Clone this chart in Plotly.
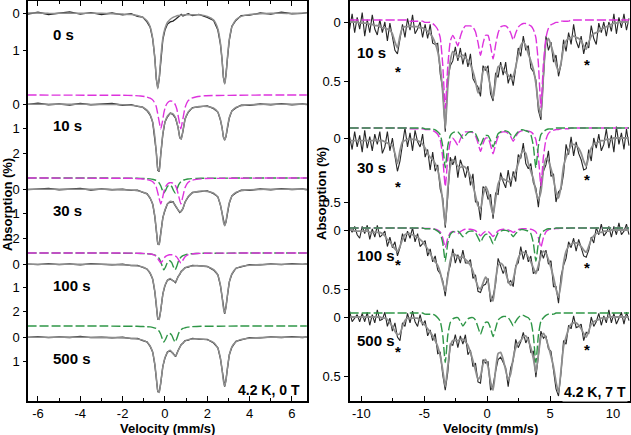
import plotly.graph_objects as go

FONT = "Liberation Sans, Arial, sans-serif"
DATA_C = "#262626"
FIT_C = "#8e8e8e"
MAG_C = "#dd33dd"
GRN_C = "#2f9647"

# ================= LEFT PANEL (4.2 K, 0 T) =================
L_SPECTRA = ["0 s", "10 s", "30 s", "100 s", "500 s"]

L_VEL = [-6.5, -6.0, -5.5, -5.0, -4.5, -4.0, -3.5, -3.0, -2.5, -2.0,
         -1.6, -1.3, -1.05, -0.85, -0.7, -0.58, -0.48, -0.41, -0.34,
         -0.27, -0.2, -0.1, 0.0, 0.12, 0.25, 0.38, 0.5, 0.62, 0.7,
         0.77, 0.85, 0.95, 1.1, 1.3, 1.6, 2.0, 2.3, 2.5, 2.62,
         2.7, 2.76, 2.82, 2.88, 2.95, 3.04, 3.16, 3.35, 3.6, 4.0,
         4.5, 5.0, 5.5, 6.0, 6.5, 6.7]

# absorption (%) of the fits
L_FIT_0S = [0.0, 0.0, 0.01, 0.01, 0.01, 0.01, 0.01, 0.01, 0.02, 0.03,
            0.04, 0.07, 0.12, 0.21, 0.37, 0.68, 1.23, 1.75, 2.05,
            1.75, 1.23, 0.68, 0.42, 0.25, 0.17, 0.12, 0.09, 0.07, 0.065,
            0.06, 0.055, 0.05, 0.05, 0.05, 0.05, 0.09, 0.19, 0.43, 0.81,
            1.29, 1.71, 1.92, 1.71, 1.21, 0.71, 0.38, 0.18, 0.09, 0.04,
            0.02, 0.01, 0.01, 0.01, 0.0, 0.0]
L_FIT_10S = [0.01, 0.01, 0.01, 0.01, 0.01, 0.01, 0.02, 0.02, 0.02, 0.03,
             0.05, 0.08, 0.14, 0.25, 0.43, 0.76, 1.32, 1.97, 2.66,
             2.73, 2.09, 1.21, 0.75, 0.49, 0.39, 0.40, 0.56, 0.97, 1.36,
             1.44, 1.09, 0.63, 0.32, 0.17, 0.10, 0.10, 0.17, 0.34, 0.63,
             0.99, 1.32, 1.48, 1.32, 0.94, 0.55, 0.30, 0.14, 0.07, 0.03,
             0.02, 0.01, 0.01, 0.01, 0.01, 0.01]
L_FIT_30S = [0.01, 0.01, 0.01, 0.01, 0.01, 0.01, 0.01, 0.01, 0.02, 0.03,
             0.04, 0.07, 0.12, 0.21, 0.36, 0.63, 1.1, 1.65, 2.2,
             2.27, 1.85, 1.2, 0.85, 0.62, 0.5, 0.55, 0.68, 0.85, 0.93,
             0.92, 0.78, 0.55, 0.3, 0.16, 0.09, 0.1, 0.17, 0.34, 0.64,
             1.0, 1.34, 1.5, 1.34, 0.95, 0.56, 0.3, 0.14, 0.07, 0.03,
             0.02, 0.01, 0.01, 0.01, 0.01, 0.01]
L_FIT_100S = [0.01, 0.01, 0.01, 0.01, 0.01, 0.01, 0.01, 0.01, 0.02, 0.03,
              0.05, 0.08, 0.13, 0.23, 0.38, 0.66, 1.15, 1.7, 2.3,
              2.36, 1.95, 1.3, 0.9, 0.7, 0.62, 0.72, 0.76, 0.55, 0.42,
              0.33, 0.24, 0.17, 0.11, 0.08, 0.07, 0.12, 0.24, 0.48, 0.9,
              1.41, 1.87, 2.09, 1.87, 1.33, 0.78, 0.42, 0.2, 0.1, 0.05,
              0.02, 0.01, 0.01, 0.01, 0.01, 0.01]
L_FIT_500S = [0.01, 0.01, 0.01, 0.01, 0.01, 0.01, 0.01, 0.01, 0.02, 0.03,
              0.05, 0.08, 0.13, 0.22, 0.37, 0.64, 1.12, 1.66, 2.25,
              2.31, 1.9, 1.25, 0.85, 0.64, 0.55, 0.7, 0.79, 0.58, 0.43,
              0.33, 0.24, 0.17, 0.11, 0.08, 0.07, 0.12, 0.23, 0.47, 0.88,
              1.38, 1.83, 2.04, 1.83, 1.3, 0.76, 0.41, 0.2, 0.1, 0.05,
              0.02, 0.01, 0.01, 0.01, 0.01, 0.01]

# absorption (%) of the measured spectra
L_DATA_0S = [0.03, -0.02, 0.04, 0.0, -0.03, 0.03, -0.01, 0.04, 0.0, 0.05,
             0.02, 0.09, 0.11, 0.24, 0.38, 0.7, 1.2, 1.78, 2.02,
             1.78, 1.26, 0.72, 0.46, 0.3, 0.24, 0.22, 0.17, 0.1, 0.08,
             0.04, 0.08, 0.05, 0.02, 0.07, 0.04, 0.12, 0.2, 0.46, 0.84,
             1.27, 1.74, 1.9, 1.68, 1.24, 0.73, 0.36, 0.2, 0.07, 0.06,
             0.0, 0.03, -0.02, 0.02, 0.01, -0.01]
L_DATA_10S = [0.02, -0.03, 0.03, 0.0, 0.04, -0.02, 0.03, 0.0, -0.02, 0.05,
              0.03, 0.1, 0.13, 0.27, 0.45, 0.74, 1.35, 1.95, 2.7,
              2.75, 2.06, 1.24, 0.73, 0.52, 0.37, 0.43, 0.58, 0.95, 1.38,
              1.42, 1.12, 0.6, 0.34, 0.15, 0.12, 0.08, 0.19, 0.33, 0.66,
              0.97, 1.35, 1.46, 1.34, 0.92, 0.57, 0.28, 0.16, 0.05, 0.05,
              0.0, 0.03, -0.01, 0.03, 0.0, 0.02]
L_DATA_30S = [0.03, 0.0, -0.02, 0.03, 0.01, -0.02, 0.04, 0.0, 0.03, 0.01,
              0.06, 0.05, 0.14, 0.19, 0.38, 0.61, 1.13, 1.62, 2.24,
              2.25, 1.88, 1.17, 0.88, 0.6, 0.53, 0.52, 0.7, 0.83, 0.96,
              0.9, 0.8, 0.53, 0.32, 0.14, 0.11, 0.08, 0.19, 0.32, 0.66,
              0.98, 1.36, 1.48, 1.36, 0.93, 0.58, 0.28, 0.16, 0.05, 0.05,
              0.0, 0.03, -0.01, 0.02, 0.0, 0.03]
L_DATA_100S = [0.0, 0.03, -0.01, 0.03, 0.0, 0.04, -0.01, 0.02, 0.04, 0.01,
               0.07, 0.06, 0.15, 0.21, 0.4, 0.64, 1.18, 1.67, 2.34,
               2.33, 1.98, 1.27, 0.93, 0.68, 0.65, 0.7, 0.79, 0.53, 0.44,
               0.31, 0.26, 0.15, 0.13, 0.06, 0.09, 0.1, 0.26, 0.46, 0.92,
               1.38, 1.9, 2.12, 1.84, 1.35, 0.76, 0.44, 0.18, 0.12, 0.03,
               0.04, 0.0, 0.03, -0.01, 0.02, 0.0]
L_DATA_500S = [0.02, -0.01, 0.03, 0.0, 0.02, -0.02, 0.03, 0.01, 0.04, 0.01,
               0.07, 0.06, 0.15, 0.2, 0.39, 0.62, 1.15, 1.63, 2.28,
               2.28, 1.93, 1.22, 0.88, 0.62, 0.58, 0.68, 0.82, 0.56, 0.45,
               0.31, 0.26, 0.15, 0.13, 0.06, 0.09, 0.1, 0.25, 0.45, 0.9,
               1.35, 1.86, 2.07, 1.8, 1.33, 0.74, 0.43, 0.18, 0.12, 0.03,
               0.04, 0.0, 0.02, -0.01, 0.02, 0.0]

# doublet components (absorption %, at full weight)
L_COMP_VEL = [-6.5, -3.0, -2.0, -1.5, -1.15, -0.9, -0.7, -0.55, -0.42, -0.3,
              -0.2, -0.12, -0.05, 0.03, 0.12, 0.22, 0.32, 0.4, 0.48, 0.56,
              0.65, 0.75, 0.85, 0.95, 1.08, 1.25, 1.5, 1.9, 2.5, 3.5, 5.0, 6.7]
L_MAG_SHAPE = [0.0, 0.01, 0.01, 0.02, 0.04, 0.07, 0.13, 0.23, 0.45, 0.96,
               1.38, 1.09, 0.72, 0.46, 0.32, 0.25, 0.25, 0.29, 0.38, 0.57,
               0.97, 1.38, 0.96, 0.51, 0.25, 0.13, 0.07, 0.03, 0.02, 0.01, 0.0, 0.0]
L_GRN_SHAPE = [0.0, 0.0, 0.01, 0.01, 0.02, 0.03, 0.04, 0.07, 0.11, 0.2,
               0.37, 0.59, 0.72, 0.59, 0.4, 0.33, 0.41, 0.59, 0.72, 0.56,
               0.32, 0.18, 0.11, 0.08, 0.05, 0.03, 0.02, 0.01, 0.01, 0.0, 0.0, 0.0]
L_MAG_FRAC = [0.0, 1.0, 0.77, 0.31, 0.0]
L_GRN_FRAC = [0.0, 0.0, 0.85, 1.0, 0.93]
L_TICKS = [[0, 1], [0, 1, 2], [0, 1, 2], [0, 1, 2], [0, 1]]

L_FITS = [L_FIT_0S, L_FIT_10S, L_FIT_30S, L_FIT_100S, L_FIT_500S]
L_DATAS = [L_DATA_0S, L_DATA_10S, L_DATA_30S, L_DATA_100S, L_DATA_500S]

# stacking layout (axis unit = 1 px from top)
L_ZERO = [13, 104, 189, 264, 337]
L_SCALE = [37, 24.5, 24.5, 23.5, 24]
L_COMP_SHIFT = [0, -9, -11, -11, -11]
L_LABEL_DY = 21

# ================= RIGHT PANEL (4.2 K, 7 T) =================
R_SPECTRA = ["10 s", "30 s", "100 s", "500 s"]
R_VEL = [round(-10.93 + 0.2 * k, 2) for k in range(112)]  # velocity channels

R_FIT_10S = [0.0, 0.0, 0.0, 0.0, 0.01, 0.01, 0.01, 0.01, 0.02, 0.02,
             0.03, 0.03, 0.04, 0.05, 0.05, 0.06, 0.07, 0.1, 0.17, 0.22,
             0.12, 0.05, 0.04, 0.04, 0.04, 0.04, 0.04, 0.04, 0.05, 0.05,
             0.06, 0.08, 0.1, 0.13, 0.18, 0.25, 0.38, 0.6, 0.9, 0.55,
             0.33, 0.25, 0.27, 0.3, 0.29, 0.28, 0.3, 0.33, 0.36, 0.42,
             0.5, 0.6, 0.55, 0.42, 0.38, 0.45, 0.55, 0.65, 0.5, 0.38,
             0.37, 0.4, 0.43, 0.45, 0.48, 0.46, 0.38, 0.28, 0.2, 0.17,
             0.2, 0.27, 0.33, 0.4, 0.52, 0.7, 0.8, 0.45, 0.18, 0.14,
             0.2, 0.27, 0.36, 0.42, 0.35, 0.22, 0.16, 0.14, 0.13, 0.12,
             0.13, 0.14, 0.16, 0.2, 0.23, 0.17, 0.12, 0.1, 0.09, 0.08,
             0.06, 0.05, 0.04, 0.03, 0.02, 0.01, 0.01, 0.0, 0.0, 0.0,
             0.0, 0.0]
R_FIT_30S = [0.02, 0.02, 0.02, 0.02, 0.02, 0.02, 0.02, 0.02, 0.02, 0.02,
             0.02, 0.02, 0.02, 0.02, 0.03, 0.04, 0.05, 0.06, 0.12, 0.2,
             0.1, 0.03, 0.02, 0.01, 0.01, 0.01, 0.01, 0.02, 0.03, 0.05,
             0.08, 0.12, 0.15, 0.17, 0.2, 0.25, 0.35, 0.5, 0.68, 0.4,
             0.22, 0.17, 0.19, 0.22, 0.23, 0.22, 0.23, 0.26, 0.3, 0.37,
             0.45, 0.53, 0.55, 0.45, 0.38, 0.42, 0.52, 0.6, 0.48, 0.36,
             0.32, 0.32, 0.33, 0.34, 0.33, 0.3, 0.26, 0.2, 0.13, 0.1,
             0.12, 0.2, 0.26, 0.32, 0.42, 0.48, 0.42, 0.25, 0.16, 0.18,
             0.24, 0.32, 0.42, 0.47, 0.38, 0.22, 0.15, 0.1, 0.06, 0.05,
             0.06, 0.08, 0.12, 0.18, 0.22, 0.15, 0.08, 0.05, 0.04, 0.03,
             0.02, 0.02, 0.01, 0.01, 0.01, 0.0, 0.0, 0.0, 0.0, 0.0,
             0.0, 0.0]
R_FIT_100S = [0.0, 0.0, 0.01, 0.01, 0.01, 0.01, 0.01, 0.01, 0.02, 0.02,
              0.02, 0.02, 0.02, 0.03, 0.05, 0.08, 0.1, 0.13, 0.16, 0.18,
              0.14, 0.08, 0.04, 0.03, 0.03, 0.04, 0.05, 0.06, 0.08, 0.1,
              0.13, 0.16, 0.2, 0.24, 0.27, 0.3, 0.36, 0.45, 0.52, 0.4,
              0.26, 0.2, 0.21, 0.23, 0.23, 0.23, 0.25, 0.27, 0.3, 0.35,
              0.42, 0.48, 0.5, 0.45, 0.4, 0.44, 0.56, 0.6, 0.42, 0.3,
              0.28, 0.3, 0.36, 0.43, 0.47, 0.42, 0.32, 0.24, 0.2, 0.19,
              0.2, 0.23, 0.27, 0.32, 0.37, 0.3, 0.22, 0.18, 0.2, 0.25,
              0.32, 0.4, 0.5, 0.57, 0.45, 0.28, 0.18, 0.14, 0.12, 0.11,
              0.11, 0.12, 0.14, 0.17, 0.19, 0.14, 0.08, 0.05, 0.03, 0.02,
              0.02, 0.01, 0.01, 0.01, 0.0, 0.0, 0.0, 0.0, 0.0, 0.0,
              0.0, 0.0]
R_FIT_500S = [0.0, 0.0, 0.0, 0.0, 0.0, 0.0, 0.0, 0.0, 0.0, 0.0,
              0.0, 0.0, 0.0, 0.01, 0.01, 0.02, 0.05, 0.08, 0.12, 0.15,
              0.14, 0.08, 0.03, 0.01, 0.01, 0.01, 0.01, 0.01, 0.03, 0.05,
              0.07, 0.1, 0.13, 0.16, 0.2, 0.25, 0.33, 0.45, 0.59, 0.42,
              0.25, 0.2, 0.2, 0.2, 0.19, 0.19, 0.21, 0.24, 0.3, 0.37,
              0.45, 0.53, 0.5, 0.4, 0.36, 0.42, 0.55, 0.62, 0.45, 0.31,
              0.3, 0.36, 0.45, 0.53, 0.48, 0.35, 0.26, 0.22, 0.2, 0.17,
              0.16, 0.2, 0.26, 0.35, 0.47, 0.32, 0.17, 0.14, 0.18, 0.25,
              0.33, 0.42, 0.55, 0.64, 0.45, 0.25, 0.17, 0.1, 0.06, 0.05,
              0.05, 0.07, 0.1, 0.14, 0.17, 0.12, 0.06, 0.04, 0.03, 0.02,
              0.01, 0.01, 0.01, 0.0, 0.0, 0.0, 0.0, 0.0, 0.0, 0.0,
              0.0, 0.0]

R_DATA_10S = [0.06, -0.07, 0.09, -0.04, 0.06, -0.08, 0.12, -0.02, 0.09, -0.06,
              0.06, 0.11, -0.02, 0.09, 0.0, 0.16, 0.01, 0.12, 0.24, 0.27,
              0.16, 0.02, 0.13, -0.03, 0.07, -0.06, 0.1, 0.06, 0.0, 0.13,
              0.02, 0.14, 0.02, 0.18, 0.19, 0.18, 0.44, 0.57, 0.93, 0.49,
              0.37, 0.33, 0.21, 0.33, 0.22, 0.36, 0.26, 0.38, 0.27, 0.48,
              0.52, 0.55, 0.63, 0.37, 0.41, 0.37, 0.61, 0.67, 0.43, 0.47,
              0.34, 0.45, 0.34, 0.52, 0.44, 0.54, 0.39, 0.22, 0.29, 0.12,
              0.24, 0.2, 0.39, 0.42, 0.49, 0.75, 0.83, 0.51, 0.12, 0.24,
              0.17, 0.34, 0.28, 0.46, 0.36, 0.15, 0.25, 0.09, 0.19, 0.02,
              0.16, 0.22, 0.12, 0.27, 0.17, 0.22, 0.03, 0.14, 0.19, 0.01,
              0.09, 0.0, 0.12, 0.0, 0.08, -0.07, 0.1, -0.04, 0.05, -0.07,
              0.07, -0.03]
R_DATA_30S = [-0.01, 0.09, -0.05, 0.07, -0.02, 0.11, -0.06, 0.08, -0.01, 0.1,
              -0.03, 0.05, -0.05, 0.12, 0.07, -0.05, 0.1, 0.0, 0.14, 0.26,
              0.18, 0.06, -0.08, 0.07, -0.04, 0.1, -0.06, 0.03, 0.07, -0.03,
              0.15, 0.09, 0.25, 0.11, 0.26, 0.21, 0.4, 0.47, 0.7, 0.46,
              0.15, 0.21, 0.14, 0.31, 0.17, 0.23, 0.31, 0.22, 0.37, 0.28,
              0.5, 0.5, 0.64, 0.38, 0.4, 0.48, 0.44, 0.63, 0.43, 0.44,
              0.27, 0.34, 0.39, 0.25, 0.38, 0.26, 0.34, 0.13, 0.16, 0.04,
              0.2, 0.24, 0.2, 0.35, 0.39, 0.54, 0.35, 0.26, 0.21, 0.1,
              0.3, 0.28, 0.5, 0.42, 0.4, 0.28, 0.05, 0.13, -0.01, 0.14,
              0.03, 0.12, 0.17, 0.25, 0.24, 0.09, 0.18, 0.0, 0.08, -0.03,
              0.1, 0.05, -0.07, 0.08, -0.02, 0.11, -0.09, 0.05, -0.04, 0.09,
              -0.07, 0.06]
R_DATA_100S = [-0.02, 0.02, -0.03, 0.04, 0.07, -0.03, 0.03, -0.04, 0.08, -0.01,
               0.06, -0.04, 0.06, 0.04, 0.01, 0.14, 0.06, 0.15, 0.1, 0.22,
               0.15, 0.03, 0.1, 0.01, 0.07, -0.02, 0.1, 0.03, 0.14, 0.11,
               0.09, 0.22, 0.16, 0.27, 0.22, 0.34, 0.37, 0.43, 0.56, 0.37,
               0.3, 0.16, 0.28, 0.21, 0.28, 0.17, 0.28, 0.28, 0.25, 0.41,
               0.38, 0.52, 0.53, 0.47, 0.46, 0.41, 0.61, 0.56, 0.46, 0.24,
               0.31, 0.37, 0.31, 0.45, 0.43, 0.48, 0.3, 0.28, 0.14, 0.25,
               0.17, 0.27, 0.22, 0.37, 0.35, 0.34, 0.17, 0.24, 0.17, 0.29,
               0.26, 0.48, 0.48, 0.62, 0.39, 0.3, 0.24, 0.1, 0.15, 0.07,
               0.18, 0.08, 0.15, 0.22, 0.23, 0.17, 0.06, 0.11, -0.02, 0.04,
               -0.05, 0.05, 0.02, -0.03, 0.06, -0.03, 0.04, -0.06, 0.04, 0.01,
               -0.05, 0.04]
R_DATA_500S = [-0.05, 0.04, 0.01, -0.02, 0.04, -0.03, 0.04, -0.04, 0.07, -0.02,
               0.05, -0.06, 0.03, 0.02, -0.04, 0.08, 0.01, 0.12, 0.05, 0.17,
               0.2, 0.05, 0.08, -0.03, 0.05, -0.05, 0.04, 0.08, -0.02, 0.07,
               0.03, 0.16, 0.11, 0.2, 0.14, 0.31, 0.3, 0.49, 0.62, 0.47,
               0.23, 0.24, 0.15, 0.26, 0.16, 0.23, 0.15, 0.32, 0.28, 0.42,
               0.39, 0.55, 0.56, 0.36, 0.39, 0.38, 0.62, 0.58, 0.46, 0.36,
               0.34, 0.39, 0.43, 0.59, 0.43, 0.37, 0.19, 0.26, 0.21, 0.13,
               0.22, 0.17, 0.3, 0.29, 0.51, 0.33, 0.12, 0.18, 0.16, 0.27,
               0.29, 0.45, 0.61, 0.67, 0.47, 0.2, 0.23, 0.07, 0.1, -0.01,
               0.09, 0.08, 0.06, 0.2, 0.13, 0.14, 0.0, 0.08, 0.04, -0.03,
               0.07, -0.01, 0.05, -0.06, 0.05, -0.03, 0.06, 0.01, -0.04, 0.06,
               -0.04, 0.03]

# sextet components (absorption %, at full weight)
R_MAG_SHAPE = [0.0] * 20 + [
    0.0, 0.0, 0.0, 0.0, 0.01, 0.01, 0.01, 0.01, 0.01, 0.01,
    0.02, 0.02, 0.02, 0.03, 0.05, 0.08, 0.15, 0.38, 0.75, 0.39,
    0.18, 0.13, 0.17, 0.22, 0.14, 0.08, 0.05, 0.05, 0.05, 0.06,
    0.1, 0.19, 0.3, 0.2, 0.13, 0.13, 0.22, 0.33, 0.21, 0.11,
    0.06, 0.05, 0.05, 0.07, 0.11, 0.17, 0.11, 0.06, 0.04, 0.03,
    0.03, 0.04, 0.05, 0.08, 0.15, 0.37, 0.74, 0.37, 0.15, 0.07,
    0.04, 0.03, 0.02, 0.02, 0.01, 0.01, 0.01, 0.01, 0.0, 0.0] + [0.0] * 22
R_GRN_SHAPE = [0.0] * 30 + [
    0.01, 0.01, 0.01, 0.01, 0.02, 0.04, 0.07, 0.19, 0.42, 0.19,
    0.08, 0.05, 0.04, 0.04, 0.07, 0.11, 0.08, 0.05, 0.04, 0.04,
    0.06, 0.12, 0.18, 0.12, 0.08, 0.08, 0.13, 0.2, 0.13, 0.06,
    0.04, 0.03, 0.03, 0.04, 0.07, 0.11, 0.07, 0.04, 0.02, 0.02,
    0.03, 0.04, 0.07, 0.19, 0.42, 0.19, 0.07, 0.04, 0.02, 0.01,
    0.01, 0.01] + [0.0] * 30
R_MAG_FRAC = [1.0, 0.61, 0.22, 0.0]
R_GRN_FRAC = [0.0, 0.74, 0.67, 1.0]
R_TICKS = [[0, 0.5]] * 4

R_FITS = [R_FIT_10S, R_FIT_30S, R_FIT_100S, R_FIT_500S]
R_DATAS = [R_DATA_10S, R_DATA_30S, R_DATA_100S, R_DATA_500S]

R_ZERO = [22, 138, 230, 317]
R_SCALE = [118, 128, 118, 118]
R_COMP_SHIFT = [-2, -10, -2, -4]
R_LABEL_DY = [30, 29, 25, 23]
R_STAR_V = [-7.1, 7.9]
R_STAR_DY = [[45, 38], [44, 37], [30, 33], [30, 28]]

for arr in L_FITS + L_DATAS:
    assert len(arr) == len(L_VEL), len(arr)
assert len(L_MAG_SHAPE) == len(L_COMP_VEL) == len(L_GRN_SHAPE)
for arr in R_FITS + R_DATAS + [R_MAG_SHAPE, R_GRN_SHAPE]:
    assert len(arr) == len(R_VEL), len(arr)


def place(vals, zero, scale, frac=1.0, shift=0.0):
    return [zero + shift + scale * frac * v for v in vals]


fig = go.Figure()
DASH = "9px,3px"

# ---- left traces ----
for i, name in enumerate(L_SPECTRA):
    z, s = L_ZERO[i], L_SCALE[i]
    fig.add_trace(go.Scatter(x=L_VEL, y=place(L_DATAS[i], z, s), mode="lines",
                             line=dict(color=DATA_C, width=1.3), xaxis="x", yaxis="y",
                             showlegend=False, hoverinfo="skip"))
    fig.add_trace(go.Scatter(x=L_VEL, y=place(L_FITS[i], z, s), mode="lines",
                             line=dict(color=FIT_C, width=1.5, shape="spline", smoothing=0.5),
                             xaxis="x", yaxis="y", showlegend=False, hoverinfo="skip"))
    if L_GRN_FRAC[i] > 0:
        fig.add_trace(go.Scatter(x=L_COMP_VEL,
                                 y=place(L_GRN_SHAPE, z, s, L_GRN_FRAC[i], L_COMP_SHIFT[i]),
                                 mode="lines",
                                 line=dict(color=GRN_C, width=1.4, dash=DASH, shape="spline", smoothing=0.5),
                                 xaxis="x", yaxis="y", showlegend=False, hoverinfo="skip"))
    if L_MAG_FRAC[i] > 0:
        fig.add_trace(go.Scatter(x=L_COMP_VEL,
                                 y=place(L_MAG_SHAPE, z, s, L_MAG_FRAC[i], L_COMP_SHIFT[i]),
                                 mode="lines",
                                 line=dict(color=MAG_C, width=1.4, dash=DASH, shape="spline", smoothing=0.5),
                                 xaxis="x", yaxis="y", showlegend=False, hoverinfo="skip"))

# ---- right traces ----
for i, name in enumerate(R_SPECTRA):
    z, s = R_ZERO[i], R_SCALE[i]
    fig.add_trace(go.Scatter(x=R_VEL, y=place(R_DATAS[i], z, s), mode="lines",
                             line=dict(color=DATA_C, width=1.1), xaxis="x2", yaxis="y2",
                             showlegend=False, hoverinfo="skip"))
    fig.add_trace(go.Scatter(x=R_VEL, y=place(R_FITS[i], z, s), mode="lines",
                             line=dict(color=FIT_C, width=1.8, shape="spline", smoothing=0.5),
                             xaxis="x2", yaxis="y2", showlegend=False, hoverinfo="skip"))
    if R_MAG_FRAC[i] > 0:
        fig.add_trace(go.Scatter(x=R_VEL,
                                 y=place(R_MAG_SHAPE, z, s, R_MAG_FRAC[i], R_COMP_SHIFT[i]),
                                 mode="lines",
                                 line=dict(color=MAG_C, width=1.4, dash=DASH, shape="spline", smoothing=0.5),
                                 xaxis="x2", yaxis="y2", showlegend=False, hoverinfo="skip"))
    if R_GRN_FRAC[i] > 0:
        fig.add_trace(go.Scatter(x=R_VEL,
                                 y=place(R_GRN_SHAPE, z, s, R_GRN_FRAC[i], R_COMP_SHIFT[i]),
                                 mode="lines",
                                 line=dict(color=GRN_C, width=1.4, dash=DASH, shape="spline", smoothing=0.5),
                                 xaxis="x2", yaxis="y2", showlegend=False, hoverinfo="skip"))

# ---- ticks ----
l_tickvals, l_ticktext = [], []
for i, ticks in enumerate(L_TICKS):
    for t in ticks:
        l_tickvals.append(L_ZERO[i] + L_SCALE[i] * t)
        l_ticktext.append(str(t))
r_tickvals, r_ticktext = [], []
for i, ticks in enumerate(R_TICKS):
    for t in ticks:
        r_tickvals.append(R_ZERO[i] + R_SCALE[i] * t)
        r_ticktext.append("0" if t == 0 else str(t))

W, H = 631, 435
TOP, BOT = 1, 401
AX = dict(showline=True, linecolor="black", linewidth=1.5, showgrid=False, zeroline=False,
          tickfont=dict(family=FONT, size=13, color="black"), automargin=False)

fig.update_layout(
    width=W, height=H, margin=dict(l=0, r=0, t=TOP, b=H - BOT),
    paper_bgcolor="white", plot_bgcolor="white",
    font=dict(family=FONT, color="black"),
    xaxis=dict(domain=[28 / W, 307 / W], range=[-6.47, 6.71], anchor="y", mirror="ticks",
               ticks="inside", ticklen=5, tickcolor="black",
               tickmode="array", tickvals=[-6, -4, -2, 0, 2, 4, 6],
               ticktext=["-6", "-4", "-2", "0", "2", "4", "6"],
               minor=dict(tickmode="array", tickvals=[-5, -3, -1, 1, 3, 5], ticks="inside",
                          ticklen=3, tickcolor="black"), **AX),
    yaxis=dict(domain=[0, 1], range=[BOT, TOP], anchor="x", mirror=True,
               ticks="outside", ticklen=3, tickcolor="black", ticklabelstandoff=1,
               tickmode="array", tickvals=l_tickvals, ticktext=l_ticktext, **AX),
    xaxis2=dict(domain=[350 / W, 630 / W], range=[-10.9, 11.35], anchor="y2", mirror=True,
                ticks="inside", ticklen=5, tickcolor="black",
                tickmode="array", tickvals=[-10, -5, 0, 5, 10],
                ticktext=["-10", "-5", "0", "5", "10"],
                minor=dict(tickmode="array", tickvals=[-7.5, -2.5, 2.5, 7.5], ticks="inside",
                           ticklen=3, tickcolor="black"), **AX),
    yaxis2=dict(domain=[0, 1], range=[BOT, TOP], anchor="x2", mirror=True,
                ticks="outside", ticklen=4, tickcolor="black", ticklabelstandoff=1,
                tickmode="array", tickvals=r_tickvals, ticktext=r_ticktext, **AX),
)

ann = []
BF = dict(family=FONT, size=13, color="black")
LF = dict(family=FONT, size=15, color="black")
# axis titles
ann.append(dict(text="<b>Velocity (mm/s)</b>", xref="x domain", yref="paper", x=0.5, y=0,
                yshift=-27, showarrow=False, font=BF, xanchor="center", yanchor="middle"))
ann.append(dict(text="<b>Velocity (mm/s)</b>", xref="x2 domain", yref="paper", x=0.5, y=0,
                yshift=-27, showarrow=False, font=BF, xanchor="center", yanchor="middle"))
ann.append(dict(text="<b>Absorption (%)</b>", xref="paper", yref="y", x=7 / W, y=205,
                textangle=-90, showarrow=False, font=BF, xanchor="center", yanchor="middle"))
ann.append(dict(text="<b>Absorption (%)</b>", xref="paper", yref="y", x=321 / W, y=194,
                textangle=-90, showarrow=False, font=BF, xanchor="center", yanchor="middle"))
# spectrum labels
for i, name in enumerate(L_SPECTRA):
    ann.append(dict(text=f"<b>{name}</b>", xref="x", yref="y", x=-5.4, y=L_ZERO[i] + L_LABEL_DY,
                    showarrow=False, font=LF, xanchor="left", yanchor="middle"))
for i, name in enumerate(R_SPECTRA):
    ann.append(dict(text=f"<b>{name}</b>", xref="x2", yref="y2", x=-10.5, y=R_ZERO[i] + R_LABEL_DY[i],
                    showarrow=False, font=LF, xanchor="left", yanchor="middle"))
    for v, dy in zip(R_STAR_V, R_STAR_DY[i]):
        ann.append(dict(text="<b>*</b>", xref="x2", yref="y2", x=v, y=R_ZERO[i] + dy + 4,
                        showarrow=False, font=dict(family=FONT, size=15, color="black"),
                        xanchor="center", yanchor="middle"))
# condition labels
ann.append(dict(text="<b>4.2 K, 0 T</b>", xref="x", yref="y", x=6.45, y=390,
                showarrow=False, font=dict(family=FONT, size=14, color="black"),
                xanchor="right", yanchor="middle"))
ann.append(dict(text="<b>4.2 K, 7 T</b>", xref="x2", yref="y2", x=11.2, y=392,
                showarrow=False, font=dict(family=FONT, size=14, color="black"),
                xanchor="right", yanchor="middle", bgcolor="white", borderpad=1))
fig.update_layout(annotations=ann)

fig.write_html("out.html")
